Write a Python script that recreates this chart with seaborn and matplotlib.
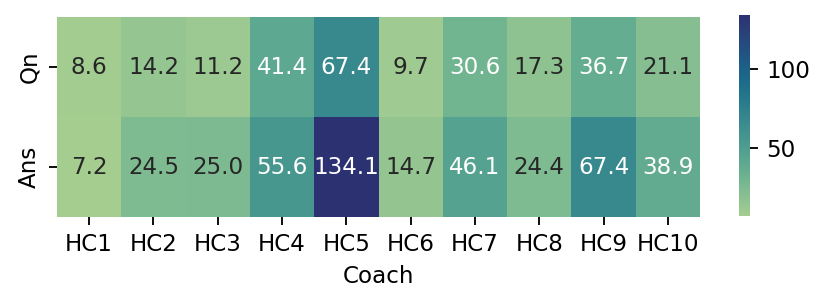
import numpy as np
import pandas as pd
import matplotlib
matplotlib.use('Agg')
import matplotlib.pyplot as plt
import seaborn as sns

coaches = ['HC1', 'HC2', 'HC3', 'HC4', 'HC5', 'HC6', 'HC7', 'HC8', 'HC9', 'HC10']
rows = ['Qn', 'Ans']
qn = [8.6, 14.2, 11.2, 41.4, 67.4, 9.7, 30.6, 17.3, 36.7, 21.1]
ans = [7.2, 24.5, 25.0, 55.6, 134.1, 14.7, 46.1, 24.4, 67.4, 38.9]

df = pd.DataFrame([qn, ans], index=rows, columns=coaches)
df.columns.name = 'Coach'

dpi = 166
fig = plt.figure(figsize=(830 / dpi, 307 / dpi), dpi=dpi)
ax = fig.add_axes([57 / 830, 1 - 217 / 307, 643 / 830, 200 / 307])
cax = fig.add_axes([739 / 830, 1 - 216 / 307, 11 / 830, 201 / 307])

sns.heatmap(df, ax=ax, cbar_ax=cax, cmap='crest', annot=True, fmt='.1f')
ax.set_xlabel('Coach')
ax.set_ylabel('')

fig.savefig('out.png', dpi=dpi)
